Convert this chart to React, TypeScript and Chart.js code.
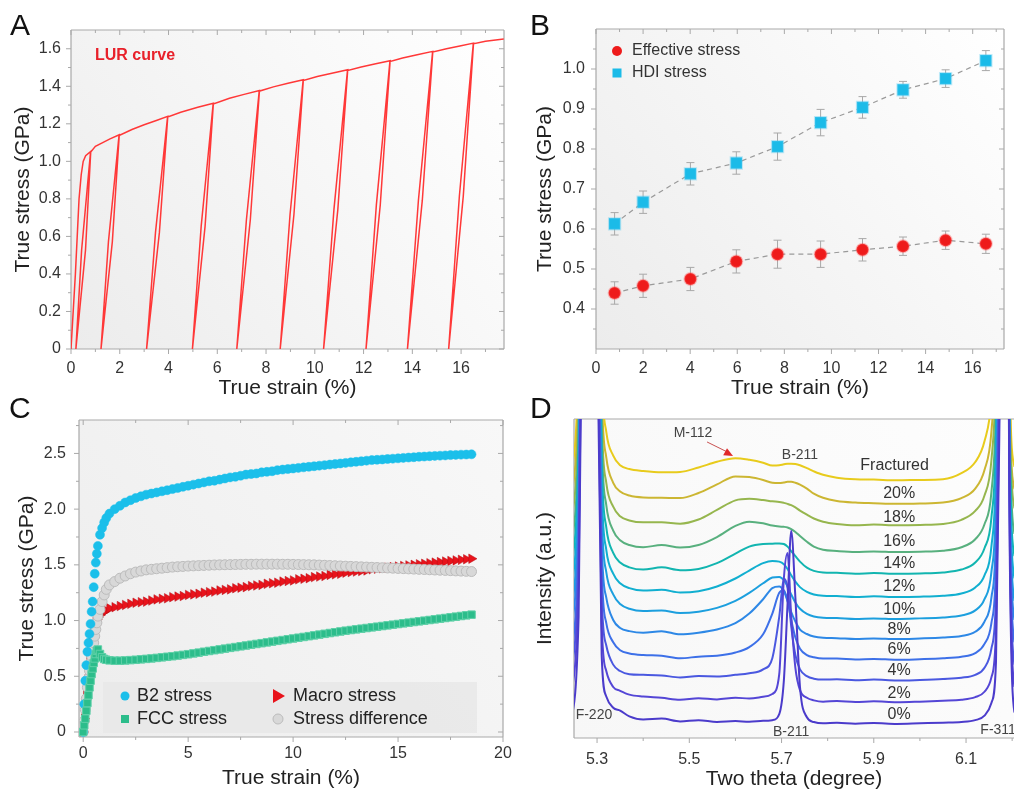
import React, { useEffect, useRef } from 'react';
import { Chart, registerables } from 'chart.js';

Chart.register(...registerables);

const FONT = "'Liberation Sans', Arial, Helvetica, sans-serif";
const PAGE_W = 1014;
const PAGE_H = 792;
const TITLE_SIZE = 21;
const TICK_SIZE = 16;

// ---------------- Panel A : LUR curve ----------------
const lurStrain = [0, 0.18, 0.33, 0.42, 0.5, 0.6, 0.81, 0.595, 0.2, 0.435, 0.8, 1.0, 1.3, 1.6, 1.98, 1.695, 1.23, 1.535, 1.97, 2.5, 3.0, 3.5, 3.97, 3.625, 3.1, 3.465, 3.96, 4.5, 5.2, 5.84, 5.5, 4.98, 5.34, 5.83, 6.5, 7.1, 7.73, 7.355, 6.8, 7.195, 7.72, 8.3, 8.9, 9.53, 9.145, 8.58, 8.985, 9.52, 10.1, 10.7, 11.35, 10.945, 10.36, 10.785, 11.34, 11.9, 12.5, 13.09, 12.685, 12.1, 12.525, 13.08, 13.6, 14.2, 14.84, 14.41, 13.8, 14.25, 14.83, 15.4, 15.95, 16.51, 16.09, 15.49, 15.93, 16.5, 17.0, 17.75];
const lurStress = [0, 0.4, 0.8, 0.93, 1.0, 1.03, 1.053, 0.527, 0, 0.527, 1.048, 1.08, 1.1, 1.12, 1.142, 0.571, 0, 0.571, 1.138, 1.17, 1.195, 1.218, 1.24, 0.62, 0, 0.62, 1.236, 1.262, 1.288, 1.31, 0.655, 0, 0.655, 1.306, 1.336, 1.357, 1.378, 0.689, 0, 0.689, 1.374, 1.397, 1.416, 1.435, 0.718, 0, 0.718, 1.431, 1.452, 1.47, 1.488, 0.744, 0, 0.744, 1.484, 1.503, 1.52, 1.536, 0.768, 0, 0.768, 1.532, 1.551, 1.568, 1.586, 0.793, 0, 0.793, 1.582, 1.6, 1.615, 1.63, 0.815, 0, 0.815, 1.626, 1.64, 1.652];
const aXTicks = [0, 2, 4, 6, 8, 10, 12, 14, 16];
const aXMinor = [1, 3, 5, 7, 9, 11, 13, 15, 17];
const aYTicks = [0, 0.2, 0.4, 0.6, 0.8, 1.0, 1.2, 1.4, 1.6];
const aYMinor = [0.1, 0.3, 0.5, 0.7, 0.9, 1.1, 1.3, 1.5];

// ---------------- Panel B : effective / HDI stress ----------------
const bStrain = [0.79, 2.0, 4.01, 5.96, 7.71, 9.54, 11.32, 13.04, 14.85, 16.56];
const effStress = [0.44, 0.458, 0.475, 0.519, 0.537, 0.537, 0.548, 0.557, 0.572, 0.563];
const effErr = [0.028, 0.029, 0.029, 0.029, 0.035, 0.033, 0.028, 0.023, 0.023, 0.024];
const hdiStress = [0.613, 0.667, 0.738, 0.765, 0.806, 0.866, 0.904, 0.948, 0.976, 1.021];
const hdiErr = [0.028, 0.028, 0.028, 0.028, 0.034, 0.033, 0.027, 0.021, 0.022, 0.025];
const bSeriesNames = ['Effective stress', 'HDI stress'];
const bXTicks = [0, 2, 4, 6, 8, 10, 12, 14, 16];
const bXMinor = [1, 3, 5, 7, 9, 11, 13, 15, 17];
const bYTicks = [0.4, 0.5, 0.6, 0.7, 0.8, 0.9, 1.0];
const bYMinor = [0.35, 0.45, 0.55, 0.65, 0.75, 0.85, 0.95, 1.05];

// ---------------- Panel C : phase stresses ----------------
const cStrain = [0, 0.05, 0.1, 0.15, 0.2, 0.25, 0.3, 0.35, 0.4, 0.45, 0.5, 0.55, 0.6, 0.65, 0.7, 0.8, 0.9, 1.0, 1.1, 1.25, 1.5, 1.75, 2, 2.25, 2.5, 2.75, 3, 3.25, 3.5, 3.75, 4, 4.25, 4.5, 4.75, 5, 5.25, 5.5, 5.75, 6, 6.25, 6.5, 6.75, 7, 7.25, 7.5, 7.75, 8, 8.25, 8.5, 8.75, 9, 9.25, 9.5, 9.75, 10, 10.25, 10.5, 10.75, 11, 11.25, 11.5, 11.75, 12, 12.25, 12.5, 12.75, 13, 13.25, 13.5, 13.75, 14, 14.25, 14.5, 14.75, 15, 15.25, 15.5, 15.75, 16, 16.25, 16.5, 16.75, 17, 17.25, 17.5, 17.75, 18, 18.25, 18.5];
const b2Stress = [0, 0.25, 0.46, 0.6, 0.72, 0.8, 0.88, 0.97, 1.08, 1.17, 1.3, 1.42, 1.52, 1.6, 1.67, 1.77, 1.83, 1.88, 1.92,
  1.96, 2.0, 2.03, 2.06, 2.08, 2.1, 2.115, 2.13, 2.14, 2.15,
  2.16, 2.17, 2.18, 2.19, 2.2, 2.21, 2.22, 2.23, 2.24, 2.25,
  2.255, 2.265, 2.275, 2.285, 2.29, 2.3, 2.31, 2.315, 2.32, 2.33,
  2.335, 2.34, 2.35, 2.355, 2.36, 2.365, 2.37, 2.375, 2.38, 2.385,
  2.39, 2.395, 2.4, 2.405, 2.41, 2.415, 2.42, 2.425, 2.43, 2.435,
  2.44, 2.443, 2.446, 2.45, 2.453, 2.456, 2.46, 2.463, 2.466, 2.47,
  2.472, 2.475, 2.478, 2.48, 2.482, 2.485, 2.487, 2.489, 2.49, 2.492];
const macroStress = [0, 0.12, 0.24, 0.36, 0.47, 0.57, 0.66, 0.74, 0.81, 0.87, 0.92, 0.96, 0.99, 1.01, 1.03, 1.05, 1.07, 1.08, 1.09,
  1.11, 1.12, 1.13, 1.14, 1.15, 1.16, 1.165, 1.17, 1.18, 1.19,
  1.195, 1.2, 1.21, 1.215, 1.22, 1.23, 1.235, 1.24, 1.25, 1.255,
  1.26, 1.27, 1.275, 1.28, 1.29, 1.295, 1.3, 1.31, 1.315, 1.32,
  1.33, 1.335, 1.34, 1.35, 1.355, 1.36, 1.37, 1.375, 1.38, 1.39,
  1.395, 1.4, 1.41, 1.415, 1.42, 1.43, 1.435, 1.44, 1.445, 1.45,
  1.46, 1.465, 1.47, 1.475, 1.48, 1.485, 1.49, 1.495, 1.5, 1.505,
  1.51, 1.515, 1.52, 1.525, 1.53, 1.535, 1.54, 1.545, 1.55, 1.555];
const fccStress = [0, 0.06, 0.12, 0.19, 0.26, 0.33, 0.4, 0.46, 0.52, 0.57, 0.62, 0.66, 0.7, 0.73, 0.74, 0.7, 0.67, 0.655, 0.648,
  0.643, 0.64, 0.64, 0.642, 0.645, 0.648, 0.652, 0.656, 0.66, 0.665,
  0.67, 0.675, 0.68, 0.686, 0.692, 0.698, 0.705, 0.712, 0.72, 0.727,
  0.734, 0.741, 0.748, 0.755, 0.762, 0.769, 0.776, 0.783, 0.79, 0.797,
  0.804, 0.811, 0.818, 0.825, 0.832, 0.839, 0.846, 0.853, 0.86, 0.867,
  0.874, 0.881, 0.888, 0.895, 0.902, 0.909, 0.915, 0.921, 0.927, 0.933,
  0.939, 0.945, 0.951, 0.957, 0.963, 0.969, 0.975, 0.981, 0.987, 0.993,
  0.999, 1.005, 1.011, 1.017, 1.023, 1.029, 1.035, 1.041, 1.047, 1.053];
const diffStress = [0, 0.1, 0.2, 0.3, 0.4, 0.48, 0.55, 0.62, 0.68, 0.74, 0.8, 0.86, 0.92, 0.98, 1.04, 1.1, 1.17, 1.23, 1.28,
  1.32, 1.35, 1.38, 1.4, 1.42, 1.435, 1.445, 1.455, 1.46, 1.465,
  1.47, 1.475, 1.48, 1.483, 1.486, 1.489, 1.491, 1.493, 1.495, 1.497,
  1.499, 1.5, 1.501, 1.502, 1.503, 1.504, 1.505, 1.505, 1.506, 1.506,
  1.506, 1.506, 1.506, 1.505, 1.505, 1.504, 1.503, 1.502, 1.501, 1.5,
  1.498, 1.496, 1.494, 1.492, 1.49, 1.488, 1.486, 1.484, 1.482, 1.48,
  1.478, 1.476, 1.474, 1.472, 1.47, 1.468, 1.466, 1.464, 1.462, 1.46,
  1.458, 1.456, 1.454, 1.452, 1.45, 1.448, 1.446, 1.444, 1.442, 1.44];
const cSeriesNames = ['B2 stress', 'Macro stress', 'FCC stress', 'Stress difference'];
const cXTicks = [0, 5, 10, 15, 20];
const cXMinor = [2.5, 7.5, 12.5, 17.5];
const cYTicks = [0, 0.5, 1.0, 1.5, 2.0, 2.5];
const cYMinor = [0.25, 0.75, 1.25, 1.75, 2.25, 2.75];

// ---------------- Panel D : XRD profiles ----------------
const dTheta = [5.24, 5.26, 5.275, 5.29, 5.3, 5.31, 5.32, 5.335, 5.35, 5.37, 5.4, 5.44, 5.48, 5.52, 5.56, 5.6, 5.63, 5.66, 5.68, 5.695, 5.705, 5.713, 5.721, 5.73, 5.74, 5.755, 5.77, 5.79, 5.82, 5.86, 5.9, 5.95, 6.0, 6.05, 6.09, 6.12, 6.14, 6.155, 6.165, 6.175, 6.185, 6.195, 6.205, 6.215];
const xrd0 = [3, 38, 250, 300, 140, 26, 13, 9.5, 8.6, 6.8, 5.8,
  6.1, 5.2, 5.6, 5.0, 5.3, 5.1, 5.4, 5.6, 7.5, 18, 42, 65, 44, 16, 6.5, 5.0, 4.6, 4.8, 4.5, 4.7, 4.4, 4.6,
  4.8, 5.0, 5.6, 7, 11, 24, 130, 250, 55, 8, 5];
const xrd2 = [10, 50, 250, 300, 150, 36, 21, 16, 14.8, 13.6, 13.0,
  12.6, 12.0, 12.5, 12.1, 12.6, 12.4, 12.9, 13.8, 20, 50, 58, 38, 22, 15, 12.6, 11.8, 11.4, 11.6, 11.3, 11.5, 11.2, 11.4,
  11.7, 12.0, 12.8, 14.5, 19, 34, 140, 250, 60, 16, 12];
const xrd4 = [17, 58, 250, 300, 160, 45, 29, 23, 21, 20, 19.8,
  19.6, 19.0, 19.4, 19.3, 19.8, 20.3, 21.5, 25, 38, 50, 47, 35, 26, 21.5, 19.4, 18.6, 18.3, 18.4, 18.1, 18.3, 18.0, 18.2,
  18.5, 18.9, 19.8, 22, 28, 45, 150, 250, 65, 23, 19];
const xrd6 = [23, 64, 260, 300, 170, 54, 36, 30, 27.5, 26.5, 26.0,
  25.8, 25.0, 25.5, 25.8, 26.8, 28.5, 32.5, 39, 45.5, 46.3, 43, 37, 31.5, 28, 26, 25.3, 24.9, 24.9, 24.6, 24.8, 24.5, 24.7,
  25.0, 25.5, 26.6, 29.5, 36, 55, 160, 250, 70, 30, 26];
const xrd8 = [30, 72, 260, 300, 180, 62, 44, 37, 34.5, 33.5, 33.0,
  33.5, 32.5, 33.0, 34.0, 36.0, 39.0, 43.5, 47.0, 47.5, 46, 43, 39.5, 36.5, 34, 32.6, 31.8, 31.4, 31.3, 31.0, 31.2, 31.0, 31.2,
  31.5, 32.0, 33.3, 36.5, 44, 65, 170, 250, 75, 37, 33];
const xrd10 = [36, 78, 270, 300, 190, 72, 52, 45, 42, 40.5, 39.8,
  40.0, 39.2, 39.6, 40.8, 43.0, 45.5, 48.5, 50.3, 50.5, 49.5, 47.5, 45, 42.5, 40.5, 38.9, 38.1, 37.7, 37.6, 37.3, 37.5, 37.3, 37.5,
  37.8, 38.4, 40.0, 43.5, 52, 75, 180, 250, 80, 43, 39];
const xrd12 = [43, 84, 270, 300, 200, 80, 59, 51.5, 48.5, 47, 46.2,
  46.5, 45.6, 46.0, 47.5, 50.0, 52.5, 54.8, 55.5, 55.3, 54.5, 53, 51, 49, 47.3, 45.8, 45.0, 44.6, 44.5, 44.2, 44.4, 44.2, 44.3,
  44.6, 45.3, 47.2, 51, 60, 85, 190, 250, 85, 50, 46];
const xrd14 = [50, 90, 280, 300, 210, 88, 66, 58, 55, 53.5, 52.8,
  53.5, 52.6, 53.0, 54.8, 57.8, 60.0, 60.8, 60.9, 61.0, 60.8, 60.0, 58.6, 57, 55.3, 53.4, 52.4, 51.9, 51.8, 51.5, 51.7, 51.5, 51.6,
  51.9, 52.8, 55.0, 59.5, 69, 95, 200, 250, 90, 57, 53];
const xrd16 = [57, 96, 280, 300, 220, 95, 73, 65, 62, 60.5, 59.8,
  60.5, 59.7, 60.5, 63.0, 66.5, 67.8, 67.3, 66.6, 66.3, 66.2, 66.0, 65.5, 64.6, 63.3, 61.5, 60.0, 59.0, 58.6, 58.3, 58.5, 58.3, 58.4,
  58.7, 59.8, 62.3, 67, 77, 104, 200, 250, 95, 64, 60];
const xrd18 = [64, 104, 290, 300, 230, 102, 80, 72.5, 69.5, 68.2, 67.6,
  67.6, 67.2, 68.5, 71.5, 74.5, 75.0, 74.6, 74.2, 74.0, 73.7, 73.4, 73.0, 72.3, 71.3, 70.0, 68.8, 67.8, 67.1, 66.7, 66.9, 66.7, 66.8,
  67.1, 68.4, 71.2, 76, 87, 115, 210, 250, 100, 72, 68];
const xrd20 = [71, 112, 290, 300, 240, 110, 88, 80, 77.3, 76.0, 75.4,
  75.3, 75.2, 76.8, 79.5, 82.0, 81.8, 80.9, 80.0, 79.9, 80.1, 80.3, 80.3, 80.0, 79.4, 78.2, 76.6, 75.3, 74.3, 73.8, 73.6, 73.4, 73.5,
  73.8, 75.2, 78.2, 84, 96, 125, 220, 250, 105, 78, 75];
const xrdFr = [78, 120, 300, 300, 250, 118, 96, 88.5, 85.5, 84.3, 83.7,
  83.3, 83.4, 84.8, 86.6, 87.7, 87.2, 86.3, 85.4, 85.5, 85.8, 86.0, 86.0, 85.9, 85.5, 84.6, 83.6, 82.5, 81.6, 81.1, 81.0, 80.8, 80.9,
  81.1, 83.0, 86.5, 93, 106, 135, 230, 250, 110, 85, 82];
const dCurves = [xrd0, xrd2, xrd4, xrd6, xrd8, xrd10, xrd12, xrd14, xrd16, xrd18, xrd20, xrdFr];
const dColors = ['#4b3bcb', '#5446d6', '#4a58e0', '#3d70e8', '#2d88e6', '#1c9fde', '#11afd0', '#12b5b0', '#58b07e', '#96b64e', '#ccb632', '#e8cb1c'];
const dLabelText = ['0%', '2%', '4%', '6%', '8%', '10%', '12%', '14%', '16%', '18%', '20%', 'Fractured'];
const dLabelY = [7.2, 14.0, 21.0, 27.6, 33.9, 40.3, 47.4, 54.8, 61.5, 69.0, 76.5, 85.3];
const dPeakText = ['M-112', 'B-211', 'B-211', 'F-220', 'F-311'];
const dPeakX = [5.508, 5.74, 5.7206, 5.2536, 6.131];
const dPeakY = [95.6, 88.7, 1.9, 7.2, 2.5];
const dXTicks = [5.3, 5.5, 5.7, 5.9, 6.1];
const dXMinor = [5.4, 5.6, 5.8, 6.0, 6.2];

// ---------------- helpers ----------------
type Box = { l: number; t: number; r: number; b: number; yTitleX: number; xTitleY: number };

function frameLayout(p: Box) {
  const lh = TITLE_SIZE * 1.2;
  const padLeft = p.yTitleX - lh / 2;
  const scaleBottom = Math.min(PAGE_H, p.xTitleY + lh / 2);
  return {
    padding: { left: padLeft, top: p.t, right: PAGE_W - p.r, bottom: PAGE_H - scaleBottom },
    yWidth: p.l - padLeft,
    xHeight: scaleBottom - p.b,
  };
}

function linAxis(o: any) {
  return {
    type: 'linear',
    min: o.min,
    max: o.max,
    afterBuildTicks: (s: any) => { s.ticks = o.ticks.map((v: number) => ({ value: v })); },
    afterFit: (s: any) => { if (o.horizontal) s.height = o.size; else s.width = o.size; },
    grid: { display: false, drawTicks: false },
    border: { display: false },
    ticks: {
      display: o.showLabels !== false,
      padding: o.gap,
      autoSkip: false,
      maxRotation: 0,
      minRotation: 0,
      color: '#333',
      font: { family: FONT, size: TICK_SIZE },
      callback: (v: any) => o.fmt(Number(v)),
    },
    title: { display: true, text: o.title, color: '#222', font: { family: FONT, size: TITLE_SIZE }, padding: 0 },
  };
}

function makeDeco(d: any) {
  return {
    id: 'deco',
    beforeDatasetsDraw(chart: any) {
      const { ctx, chartArea: a, scales } = chart;
      const xs = scales.x;
      const ys = scales.y;
      ctx.save();
      const g = ctx.createLinearGradient(a.left, a.bottom, a.right, a.top);
      g.addColorStop(0, d.bg[0]);
      g.addColorStop(1, d.bg[1]);
      ctx.fillStyle = g;
      ctx.fillRect(a.left, a.top, a.right - a.left, a.bottom - a.top);
      ctx.strokeStyle = d.frameColor;
      ctx.lineWidth = 1.2;
      ctx.beginPath();
      if (d.sides.includes('left')) { ctx.moveTo(a.left, a.top); ctx.lineTo(a.left, a.bottom); }
      if (d.sides.includes('right')) { ctx.moveTo(a.right, a.top); ctx.lineTo(a.right, a.bottom); }
      if (d.sides.includes('top')) { ctx.moveTo(a.left, a.top); ctx.lineTo(a.right, a.top); }
      if (d.sides.includes('bottom')) { ctx.moveTo(a.left, a.bottom); ctx.lineTo(a.right, a.bottom); }
      ctx.stroke();
      ctx.lineWidth = 1;
      ctx.beginPath();
      const xt = d.xTicks;
      if (xt) {
        const draw = (vals: number[], len: number) => {
          vals.forEach((v) => {
            const px = xs.getPixelForValue(v);
            if (px < a.left - 0.5 || px > a.right + 0.5) return;
            if (xt.bottom) { ctx.moveTo(px, a.bottom); ctx.lineTo(px, a.bottom + xt.bottom * len); }
            if (xt.top) { ctx.moveTo(px, a.top); ctx.lineTo(px, a.top - xt.top * len); }
          });
        };
        draw(xt.major, 5);
        draw(xt.minor, 3);
      }
      const yt = d.yTicks;
      if (yt) {
        const draw = (vals: number[], len: number) => {
          vals.forEach((v) => {
            const py = ys.getPixelForValue(v);
            if (py < a.top - 0.5 || py > a.bottom + 0.5) return;
            if (yt.left) { ctx.moveTo(a.left, py); ctx.lineTo(a.left - yt.left * len, py); }
            if (yt.right) { ctx.moveTo(a.right, py); ctx.lineTo(a.right + yt.right * len, py); }
          });
        };
        draw(yt.major, 5);
        draw(yt.minor, 3);
      }
      ctx.stroke();
      if (d.under) d.under(chart);
      ctx.restore();
    },
    afterDatasetsDraw(chart: any) {
      if (d.over) {
        chart.ctx.save();
        d.over(chart);
        chart.ctx.restore();
      }
    },
  };
}

function baseOptions(layout: any, xAxis: any, yAxis: any) {
  return {
    responsive: false,
    animation: false,
    devicePixelRatio: 1,
    events: [],
    layout: { padding: layout.padding },
    plugins: { legend: { display: false }, tooltip: { enabled: false } },
    scales: { x: xAxis, y: yAxis },
  };
}

const FRAME = '#a9a9a9';
const EFF_COLOR = '#ee1b1b';
const HDI_COLOR = '#1bbbe8';
const B2_COLOR = '#1bbfea';
const MACRO_COLOR = '#e8131b';
const FCC_COLOR = '#2cbd8b';
const DIFF_FILL = '#d8d8d8';
const DIFF_EDGE = '#bcbcbc';

function zip(xs: number[], ys: number[]) {
  return xs.map((x, i) => ({ x, y: ys[i] }));
}

function configA() {
  const box = { l: 71, t: 30, r: 504, b: 349, yTitleX: 23, xTitleY: 388 };
  const L = frameLayout(box);
  const x = linAxis({ min: 0, max: 17.76, ticks: aXTicks, fmt: (v: number) => String(v), title: 'True strain (%)', horizontal: true, size: L.xHeight, gap: 9.9 });
  const y = linAxis({ min: 0, max: 1.7, ticks: aYTicks, fmt: (v: number) => (v === 0 ? '0' : v.toFixed(1)), title: 'True stress (GPa)', horizontal: false, size: L.yWidth, gap: 10 });
  return {
    type: 'scatter',
    data: {
      datasets: [{
        data: zip(lurStrain, lurStress),
        showLine: true,
        borderColor: '#ff3838',
        borderWidth: 1.5,
        pointRadius: 0,
        tension: 0,
      }],
    },
    options: baseOptions(L, x, y),
    plugins: [makeDeco({
      bg: ['#ececec', '#ffffff'],
      frameColor: FRAME,
      sides: ['left', 'right', 'top', 'bottom'],
      xTicks: { major: aXTicks, minor: aXMinor, bottom: 1, top: -1 },
      yTicks: { major: aYTicks, minor: aYMinor, left: 1, right: -1 },
      over: (chart: any) => {
        const { ctx, chartArea: a } = chart;
        ctx.font = `bold 16px ${FONT}`;
        ctx.fillStyle = '#e8202a';
        ctx.textAlign = 'left';
        ctx.textBaseline = 'middle';
        ctx.fillText('LUR curve', a.left + 24, a.top + 26);
      },
    })],
  };
}

function configB() {
  const box = { l: 596, t: 29, r: 1012, b: 349, yTitleX: 545, xTitleY: 388 };
  const L = frameLayout(box);
  const x = linAxis({ min: 0, max: 17.33, ticks: bXTicks, fmt: (v: number) => String(v), title: 'True strain (%)', horizontal: true, size: L.xHeight, gap: 9.9 });
  const y = linAxis({ min: 0.3, max: 1.1, ticks: bYTicks, fmt: (v: number) => v.toFixed(1), title: 'True stress (GPa)', horizontal: false, size: L.yWidth, gap: 11 });
  const drawErr = (chart: any, ys: number[], es: number[]) => {
    const { ctx, scales } = chart;
    bStrain.forEach((sx, i) => {
      const px = scales.x.getPixelForValue(sx);
      const p1 = scales.y.getPixelForValue(ys[i] - es[i]);
      const p2 = scales.y.getPixelForValue(ys[i] + es[i]);
      ctx.moveTo(px, p1); ctx.lineTo(px, p2);
      ctx.moveTo(px - 4, p1); ctx.lineTo(px + 4, p1);
      ctx.moveTo(px - 4, p2); ctx.lineTo(px + 4, p2);
    });
  };
  return {
    type: 'scatter',
    data: {
      datasets: [
        {
          data: zip(bStrain, effStress), showLine: true, borderColor: '#9a9a9a', borderWidth: 1.2, borderDash: [5, 4],
          pointStyle: 'circle', pointRadius: 6, pointBackgroundColor: EFF_COLOR, pointBorderColor: 'rgba(255,90,90,0.35)', pointBorderWidth: 2,
        },
        {
          data: zip(bStrain, hdiStress), showLine: true, borderColor: '#9a9a9a', borderWidth: 1.2, borderDash: [5, 4],
          pointStyle: 'rect', pointRadius: 8, pointBackgroundColor: HDI_COLOR, pointBorderColor: 'rgba(80,200,240,0.35)', pointBorderWidth: 2,
        },
      ],
    },
    options: baseOptions(L, x, y),
    plugins: [makeDeco({
      bg: ['#ececec', '#ffffff'],
      frameColor: FRAME,
      sides: ['left', 'right', 'top', 'bottom'],
      xTicks: { major: bXTicks, minor: bXMinor, bottom: 1, top: -1 },
      yTicks: { major: bYTicks, minor: bYMinor, left: 1, right: -1 },
      under: (chart: any) => {
        const { ctx } = chart;
        ctx.strokeStyle = '#a8a8a8';
        ctx.lineWidth = 1;
        ctx.beginPath();
        drawErr(chart, effStress, effErr);
        drawErr(chart, hdiStress, hdiErr);
        ctx.stroke();
      },
      over: (chart: any) => {
        const { ctx, chartArea: a } = chart;
        const lx = a.left + 21;
        const ly = a.top + 22;
        ctx.fillStyle = EFF_COLOR;
        ctx.beginPath(); ctx.arc(lx, ly, 5, 0, Math.PI * 2); ctx.fill();
        ctx.fillStyle = HDI_COLOR;
        ctx.fillRect(lx - 4.5, ly + 22 - 4.5, 9, 9);
        ctx.font = `16px ${FONT}`;
        ctx.fillStyle = '#333';
        ctx.textAlign = 'left';
        ctx.textBaseline = 'middle';
        ctx.fillText(bSeriesNames[0], lx + 15, ly);
        ctx.fillText(bSeriesNames[1], lx + 15, ly + 22);
      },
    })],
  };
}

function drawMarker(ctx: any, kind: string, x: number, y: number) {
  ctx.beginPath();
  if (kind === 'circle') {
    ctx.fillStyle = B2_COLOR; ctx.arc(x, y, 4.5, 0, Math.PI * 2); ctx.fill();
  } else if (kind === 'tri') {
    ctx.fillStyle = MACRO_COLOR; ctx.moveTo(x + 7, y); ctx.lineTo(x - 5, y - 7); ctx.lineTo(x - 5, y + 7); ctx.closePath(); ctx.fill();
  } else if (kind === 'rect') {
    ctx.fillStyle = FCC_COLOR; ctx.fillRect(x - 4, y - 4, 8, 8);
  } else {
    ctx.fillStyle = DIFF_FILL; ctx.strokeStyle = DIFF_EDGE; ctx.lineWidth = 1; ctx.arc(x, y, 5, 0, Math.PI * 2); ctx.fill(); ctx.stroke();
  }
}

function configC() {
  const box = { l: 79, t: 420, r: 503, b: 737, yTitleX: 27, xTitleY: 778 };
  const L = frameLayout(box);
  const x = linAxis({ min: -0.2, max: 20, ticks: cXTicks, fmt: (v: number) => String(v), title: 'True strain (%)', horizontal: true, size: L.xHeight, gap: 7.4 });
  const y = linAxis({ min: -0.045, max: 2.8, ticks: cYTicks, fmt: (v: number) => (v === 0 ? '0' : v.toFixed(1)), title: 'True stress (GPa)', horizontal: false, size: L.yWidth, gap: 13 });
  return {
    type: 'scatter',
    data: {
      datasets: [
        { data: zip(cStrain, b2Stress), order: 2, pointStyle: 'circle', pointRadius: 4.5, pointBackgroundColor: B2_COLOR, pointBorderColor: B2_COLOR, pointBorderWidth: 0.5 },
        { data: zip(cStrain, macroStress), order: 4, pointStyle: 'triangle', pointRotation: 90, pointRadius: 5.5, pointBackgroundColor: MACRO_COLOR, pointBorderColor: '#b80d14', pointBorderWidth: 0.5 },
        { data: zip(cStrain, fccStress), order: 1, pointStyle: 'rect', pointRadius: 5.3, pointBackgroundColor: FCC_COLOR, pointBorderColor: '#5fd0a8', pointBorderWidth: 1 },
        { data: zip(cStrain, diffStress), order: 3, pointStyle: 'circle', pointRadius: 5, pointBackgroundColor: DIFF_FILL, pointBorderColor: DIFF_EDGE, pointBorderWidth: 1 },
      ],
    },
    options: baseOptions(L, x, y),
    plugins: [makeDeco({
      bg: ['#ededed', '#f8f8f8'],
      frameColor: FRAME,
      sides: ['left', 'right', 'top', 'bottom'],
      xTicks: { major: cXTicks, minor: cXMinor, bottom: 1, top: -1 },
      yTicks: { major: cYTicks, minor: cYMinor, left: 1, right: -1 },
      over: (chart: any) => {
        const { ctx, chartArea: a } = chart;
        ctx.fillStyle = 'rgba(232,232,232,0.92)';
        ctx.fillRect(a.left + 24, a.bottom - 55, 374, 51);
        const r1 = a.bottom - 41;
        const r2 = a.bottom - 18;
        const c1 = a.left + 46;
        const c2 = a.left + 199;
        drawMarker(ctx, 'circle', c1, r1);
        drawMarker(ctx, 'tri', c2, r1);
        drawMarker(ctx, 'rect', c1, r2);
        drawMarker(ctx, 'diff', c2, r2);
        ctx.font = `18px ${FONT}`;
        ctx.fillStyle = '#222';
        ctx.textAlign = 'left';
        ctx.textBaseline = 'middle';
        ctx.fillText(cSeriesNames[0], c1 + 12, r1);
        ctx.fillText(cSeriesNames[1], c2 + 15, r1);
        ctx.fillText(cSeriesNames[2], c1 + 12, r2);
        ctx.fillText(cSeriesNames[3], c2 + 15, r2);
      },
    })],
  };
}

function configD() {
  const box = { l: 574, t: 419, r: 1014, b: 738, yTitleX: 545, xTitleY: 780 };
  const L = frameLayout(box);
  const x = linAxis({ min: 5.25, max: 6.204, ticks: dXTicks, fmt: (v: number) => v.toFixed(1), title: 'Two theta (degree)', horizontal: true, size: L.xHeight, gap: 12.4 });
  const y = linAxis({ min: 0, max: 100, ticks: [0], fmt: () => '', title: 'Intensity (a.u.)', horizontal: false, size: L.yWidth, gap: 0, showLabels: false });
  return {
    type: 'scatter',
    data: {
      datasets: dCurves.map((c, i) => ({
        data: zip(dTheta, c),
        showLine: true,
        borderColor: dColors[i],
        borderWidth: 2,
        pointRadius: 0,
        cubicInterpolationMode: 'monotone',
      })),
    },
    options: baseOptions(L, x, y),
    plugins: [makeDeco({
      bg: ['#f7f7f7', '#fdfdfd'],
      frameColor: FRAME,
      sides: ['left', 'top', 'bottom'],
      xTicks: { major: dXTicks, minor: dXMinor, bottom: 1 },
      over: (chart: any) => {
        const { ctx, scales } = chart;
        const xs = scales.x;
        const ys = scales.y;
        ctx.textBaseline = 'middle';
        ctx.textAlign = 'center';
        ctx.fillStyle = '#333';
        ctx.font = `16px ${FONT}`;
        dLabelText.forEach((t, i) => {
          const cx = t === 'Fractured' ? 5.945 : 5.955;
          ctx.fillText(t, xs.getPixelForValue(cx), ys.getPixelForValue(dLabelY[i]));
        });
        ctx.font = `14px ${FONT}`;
        ctx.fillStyle = '#444';
        dPeakText.forEach((t, i) => {
          ctx.textAlign = t.startsWith('F') ? 'left' : 'center';
          ctx.fillText(t, xs.getPixelForValue(dPeakX[i]), ys.getPixelForValue(dPeakY[i]));
        });
        // arrow from M-112 label to the hump
        const x0 = xs.getPixelForValue(5.5385), y0 = ys.getPixelForValue(92.8);
        const x1 = xs.getPixelForValue(5.5818), y1 = ys.getPixelForValue(89.7);
        const x2 = xs.getPixelForValue(5.5948), y2 = ys.getPixelForValue(88.4);
        ctx.strokeStyle = '#c85050';
        ctx.lineWidth = 1;
        ctx.beginPath(); ctx.moveTo(x0, y0); ctx.lineTo(x1, y1); ctx.stroke();
        const ang = Math.atan2(y2 - y0, x2 - x0);
        ctx.fillStyle = '#e02a2a';
        ctx.beginPath();
        ctx.moveTo(x2, y2);
        ctx.lineTo(x2 - 9 * Math.cos(ang) + 4 * Math.sin(ang), y2 - 9 * Math.sin(ang) - 4 * Math.cos(ang));
        ctx.lineTo(x2 - 9 * Math.cos(ang) - 4 * Math.sin(ang), y2 - 9 * Math.sin(ang) + 4 * Math.cos(ang));
        ctx.closePath();
        ctx.fill();
      },
    })],
  };
}

const letterStyle = (left: number, top: number): React.CSSProperties => ({
  position: 'absolute', left, top, font: `30px ${FONT}`, lineHeight: '30px', color: '#111',
});

export default function App() {
  const rA = useRef<HTMLCanvasElement>(null);
  const rB = useRef<HTMLCanvasElement>(null);
  const rC = useRef<HTMLCanvasElement>(null);
  const rD = useRef<HTMLCanvasElement>(null);
  useEffect(() => {
    const pairs: any[] = [[rA, configA], [rB, configB], [rC, configC], [rD, configD]];
    const charts = pairs.map(([r, f]) => new Chart(r.current.getContext('2d'), f()));
    return () => charts.forEach((c) => c.destroy());
  }, []);
  const cs: React.CSSProperties = { position: 'absolute', left: 0, top: 0 };
  return (
    <div style={{ position: 'absolute', left: 0, top: 0, width: PAGE_W, height: PAGE_H, background: '#fff', overflow: 'hidden' }}>
      <canvas ref={rA} width={PAGE_W} height={PAGE_H} style={cs} />
      <canvas ref={rB} width={PAGE_W} height={PAGE_H} style={cs} />
      <canvas ref={rC} width={PAGE_W} height={PAGE_H} style={cs} />
      <canvas ref={rD} width={PAGE_W} height={PAGE_H} style={cs} />
      <div style={letterStyle(10, 10)}>A</div>
      <div style={letterStyle(530, 10)}>B</div>
      <div style={letterStyle(9, 393)}>C</div>
      <div style={letterStyle(530, 393)}>D</div>
    </div>
  );
}
